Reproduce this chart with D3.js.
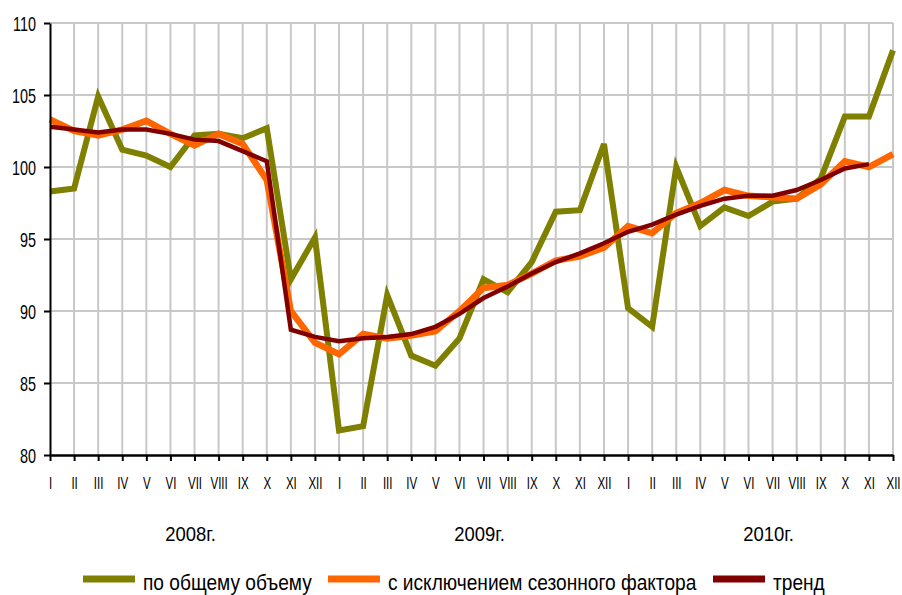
<!DOCTYPE html>
<html>
<head>
<meta charset="utf-8">
<script src="https://cdn.jsdelivr.net/npm/d3@7"></script>
<style>
  body { margin: 0; background: #fff; }
  svg { display: block; font-family: "Liberation Sans", Arial, sans-serif; }
  .grid line { stroke: #c8c8c8; stroke-width: 2; }
  .line { fill: none; stroke-linejoin: miter; }
</style>
</head>
<body>
<svg width="902" height="595"></svg>
<script>
// months of 2008-2010
const months = ["I","II","III","IV","V","VI","VII","VIII","IX","X","XI","XII"];
const years = ["2008г.", "2009г.", "2010г."];
const yTicks = [80, 85, 90, 95, 100, 105, 110];

// по общему объему
const total = [98.3, 98.5, 104.9, 101.2, 100.8, 100.0, 102.2, 102.3, 102.0, 102.7, 92.2, 95.1,
               81.7, 82.0, 91.1, 86.9, 86.2, 88.1, 92.2, 91.3, 93.4, 96.9, 97.0, 101.6,
               90.2, 88.9, 100.0, 95.9, 97.2, 96.6, 97.6, 97.8, 99.2, 103.5, 103.5, 108.1];
// с исключением сезонного фактора
const seasonal = [103.3, 102.5, 102.2, 102.6, 103.2, 102.3, 101.5, 102.3, 101.6, 99.1, 90.0, 87.8,
                  87.0, 88.4, 88.1, 88.3, 88.6, 90.0, 91.6, 91.8, 92.6, 93.5, 93.8, 94.4,
                  95.9, 95.4, 96.8, 97.5, 98.4, 98.0, 97.9, 97.8, 98.8, 100.4, 100.0, 100.9];
// тренд (no value for XII 2010)
const trend = [102.8, 102.6, 102.4, 102.6, 102.6, 102.3, 101.9, 101.8, 101.1, 100.4, 88.7, 88.2,
               87.9, 88.1, 88.2, 88.4, 88.9, 89.8, 90.9, 91.7, 92.6, 93.4, 94.0, 94.7,
               95.5, 96.0, 96.7, 97.3, 97.8, 98.0, 98.0, 98.4, 99.1, 99.9, 100.2, null];

const seriesNames = ["по общему объему", "с исключением сезонного фактора", "тренд"];
const colors = ["#808000", "#ff6600", "#800000"];
const widths = [6, 6.5, 4.5];

const svg = d3.select("svg");
const plot = {left: 50, right: 893, top: 23, bottom: 455};

const idx = d3.range(36);
const x = d3.scalePoint().domain(idx).range([plot.left, plot.right]);
const y = d3.scaleLinear().domain([80, 110]).range([plot.bottom, plot.top]);

// grid
const grid = svg.append("g").attr("class", "grid");
grid.selectAll(".h").data(yTicks.slice(1)).enter().append("line")
    .attr("x1", plot.left).attr("x2", plot.right)
    .attr("y1", d => y(d)).attr("y2", d => y(d));
grid.selectAll(".v").data(idx.slice(1)).enter().append("line")
    .attr("x1", d => x(d)).attr("x2", d => x(d))
    .attr("y1", plot.top).attr("y2", plot.bottom);

// lines
const line = d3.line()
    .defined(d => d != null)
    .x((d, i) => x(i))
    .y(d => y(d));

[total, seasonal, trend].forEach((s, k) => {
    svg.append("path")
        .datum(s)
        .attr("class", "line")
        .attr("stroke", colors[k])
        .attr("stroke-width", widths[k])
        .attr("d", line);
});

// axes (text is squeezed horizontally like the narrow font of the original)
const yAxis = svg.append("g")
    .attr("transform", `translate(${plot.left},0)`)
    .call(d3.axisLeft(y).tickValues(yTicks).tickSize(6).tickSizeOuter(0));
yAxis.select(".domain").attr("stroke", "#000").attr("stroke-width", 2);
yAxis.selectAll(".tick line").attr("stroke", "#000").attr("stroke-width", 2);
yAxis.selectAll("text")
    .attr("font-size", 20).attr("fill", "#000").attr("font-family", null)
    .attr("x", 0).attr("dy", "0.36em")
    .attr("transform", "translate(-14,0) scale(0.72,1)");

const xAxis = svg.append("g")
    .attr("transform", `translate(0,${plot.bottom})`)
    .call(d3.axisBottom(x).tickSize(6).tickPadding(16).tickSizeOuter(0)
        .tickFormat(i => months[i % 12]));
xAxis.select(".domain").attr("stroke", "#000").attr("stroke-width", 2.5);
xAxis.selectAll(".tick line").attr("stroke", "#000").attr("stroke-width", 2);
xAxis.selectAll("text")
    .attr("font-size", 17).attr("fill", "#000").attr("font-family", null)
    .attr("transform", "scale(0.68,1)");

// year labels
svg.selectAll(".year").data(years).enter().append("text")
    .attr("class", "year")
    .attr("transform", (d, i) =>
        `translate(${(x(i * 12 + 5) + x(i * 12 + 6)) / 2 + 8},541) scale(0.88,1)`)
    .attr("text-anchor", "middle")
    .attr("font-size", 21)
    .text(d => d);

// legend
const legendX = [83, 328, 713];
const legend = svg.selectAll(".legend").data(seriesNames).enter().append("g")
    .attr("class", "legend")
    .attr("transform", (d, i) => `translate(${legendX[i]},579)`);
legend.append("line")
    .attr("x1", 0).attr("x2", 52)
    .attr("stroke", (d, i) => colors[i])
    .attr("stroke-width", 7);
legend.append("text")
    .attr("transform", "translate(60,11) scale(0.85,1)")
    .attr("font-size", 22.5)
    .text(d => d);
</script>
</body>
</html>
